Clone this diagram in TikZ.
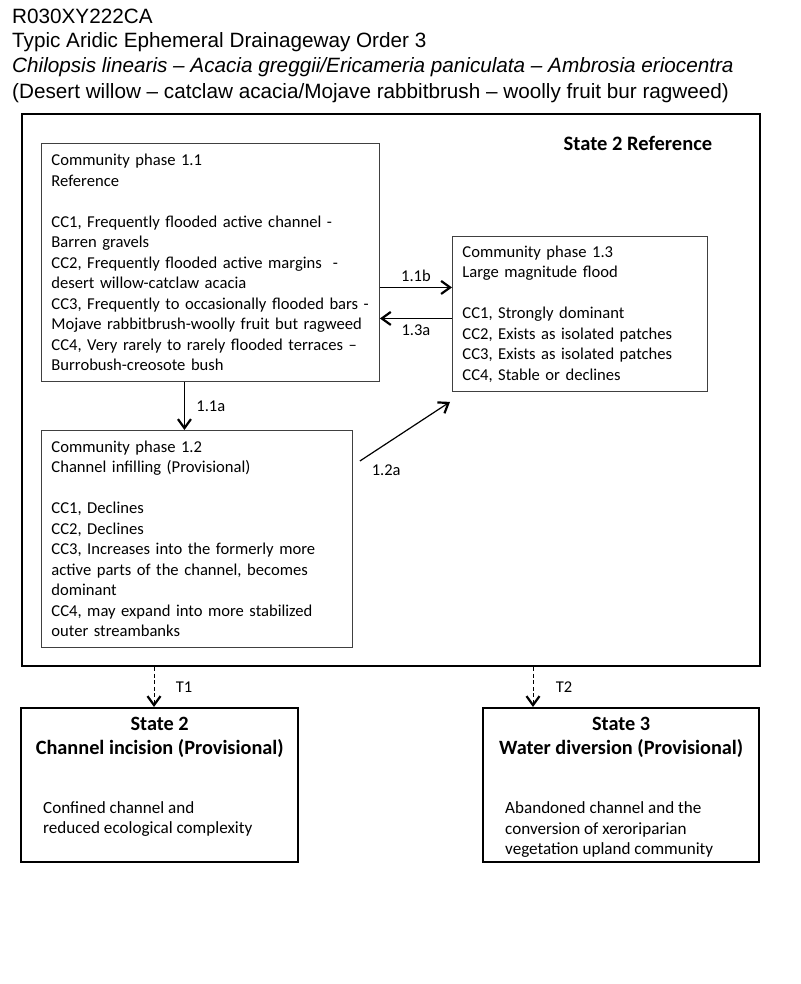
\documentclass[tikz,border=0pt]{standalone}
\usepackage{fontspec}
\setmainfont{Carlito}
\newfontfamily\headfont{Liberation Sans}
\usetikzlibrary{arrows.meta, positioning}

\tikzset{
  phase/.style={draw=black!75, line width=0.9pt, anchor=north west, align=left,
    text width=#1, inner xsep=10pt, inner ysep=0pt, font=\fontsize{16.6}{20.5}\selectfont},
  statebox/.style={draw, line width=2.4pt, anchor=north west, inner sep=0pt},
  trans/.style={-{Straight Barb[length=9pt,width=13pt,line width=2.2pt]}, line width=1.2pt},
  jump/.style={trans, line width=1pt, dash pattern=on 4pt off 2.5pt},
  lbl/.style={font=\fontsize{16.5}{18}\selectfont},
  hd/.style={anchor=base west, inner sep=0pt, font=\headfont\fontsize{20.7}{25}\selectfont}
}

\begin{document}
\begin{tikzpicture}[x=1pt, y=-1pt]
        \useasboundingbox (0,0) rectangle (800,984);

        % title lines
        \node[hd] (hd1) at (12, 24) {R030XY222CA};
        \node[hd] (hd2) at (12, 48) {Typic Aridic Ephemeral Drainageway Order 3};
        \node[hd] (hd3) at (12, 73) {\itshape Chilopsis linearis – Acacia greggii/Ericameria paniculata – Ambrosia eriocentra};
        \node[hd] (hd4) at (12, 99) {(Desert willow – catclaw acacia/Mojave rabbitbrush – woolly fruit bur ragweed)};

        % state 1 frame
        \node[statebox, minimum width=738pt, minimum height=552pt] (ref) at (21, 113) {};
        \node[anchor=east, inner sep=0pt, font=\bfseries\fontsize{20.5}{24}\selectfont] (reftitle)
            at ([xshift=-49pt, yshift=-30pt]ref.north east) {State 2 Reference};

        % community phases
        \node[phase=318pt, minimum height=238pt] (p11) at (41, 143) {Community phase 1.1\\
            Reference\\[20.5pt]
            CC1, Frequently flooded active channel -\\
            Barren gravels\\
            CC2, Frequently flooded active margins~ -\\
            desert willow-catclaw acacia\\
            CC3, Frequently to occasionally flooded bars -\\
            Mojave rabbitbrush-woolly fruit but ragweed\\
            CC4, Very rarely to rarely flooded terraces –\\
            Burrobush-creosote bush};
        \node[phase=235pt, minimum height=155pt] (p13) at (452, 236) {Community phase 1.3\\
            Large magnitude flood\\[20.5pt]
            CC1, Strongly dominant\\
            CC2, Exists as isolated patches\\
            CC3, Exists as isolated patches\\
            CC4, Stable or declines};
        \node[phase=291pt, minimum height=217pt] (p12) at (41, 430) {Community phase 1.2\\
            Channel infilling (Provisional)\\[20.5pt]
            CC1, Declines\\
            CC2, Declines\\
            CC3, Increases into the formerly more\\
            active parts of the channel, becomes\\
            dominant\\
            CC4, may expand into more stabilized\\
            outer streambanks};

        % pathways
        \coordinate (c11b) at ([yshift=-25pt]p11.east);
        \coordinate (c13a) at ([yshift=-4.5pt]p13.west);
        \coordinate (c11a) at ([xshift=-26pt]p11.south);
        \draw[trans] (c11b) -- (c11b -| p13.west) node[lbl, midway, above=2pt] {1.1b};
        \draw[trans] (c13a) -- (c13a -| p11.east) node[lbl, midway, below=2pt] {1.3a};
        \draw[trans] (c11a) -- (c11a |- p12.north) node[lbl, midway, right=8pt] {1.1a};
        \draw[trans] ([xshift=7pt, yshift=-31pt]p12.north east) -- ([xshift=-2pt, yshift=-10pt]p13.south west)
            node[lbl, at start, anchor=north west, xshift=8pt] {1.2a};

        % alternative states
        \node[statebox, minimum width=277pt, minimum height=154pt] (s2) at (20, 707) {};
        \node[statebox, minimum width=276pt, minimum height=154pt] (s3) at (482, 707) {};
        \node[anchor=north, align=center, inner sep=0pt, font=\bfseries\fontsize{20.3}{24}\selectfont] (s2title)
            at ([yshift=-10pt]s2.north) {State 2\\Channel incision (Provisional)};
        \node[anchor=north, align=center, inner sep=0pt, font=\bfseries\fontsize{20.3}{24}\selectfont] (s3title)
            at ([yshift=-10pt]s3.north) {State 3\\Water diversion (Provisional)};
        \node[anchor=west, align=left, inner sep=0pt, font=\fontsize{17.1}{20.5}\selectfont] (s2text)
            at ([xshift=23pt, yshift=-34pt]s2.west) {Confined channel and\\reduced ecological complexity};
        \node[anchor=west, align=left, inner sep=0pt, font=\fontsize{17.1}{20.5}\selectfont] (s3text)
            at ([xshift=23pt, yshift=-44.5pt]s3.west) {Abandoned channel and the\\conversion of xeroriparian\\vegetation upland community};

        % transitions
        \coordinate (t1) at (154, 0);
        \coordinate (t2) at (533, 0);
        \draw[jump] (ref.south -| t1) -- (s2.north -| t1) node[lbl, midway, right=18pt] {T1};
        \draw[jump] (ref.south -| t2) -- (s3.north -| t2) node[lbl, midway, right=19pt] {T2};
    \end{tikzpicture}
\end{document}
